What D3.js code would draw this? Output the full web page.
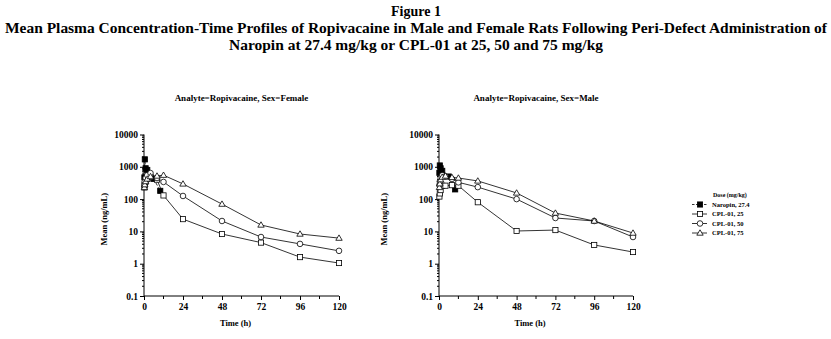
<!DOCTYPE html>
<html>
<head>
<meta charset="utf-8">
<script src="https://cdn.jsdelivr.net/npm/d3@7"></script>
<style>
  body { margin: 0; background: #fff; }
  text { font-family: "Liberation Serif", "Times New Roman", serif; font-weight: bold; fill: #000; }
</style>
</head>
<body>
<div id="chart"></div>
<script>
// ---- data ----
const times = [0.25, 0.5, 1, 2, 4, 8, 12, 24, 48, 72, 96, 120];
const naropinTimes = [0.25, 0.5, 1, 2, 6, 10];

const femaleNaropin = [470, 1700, 900, 800, 420, 180];
const femaleCpl25 = [230, 280, 350, 420, 480, 400, 130, 24, 8.3, 4.5, 1.6, 1.05];
const femaleCpl50 = [300, 350, 450, 550, 640, 450, 340, 125, 21, 6.7, 4.1, 2.5];
const femaleCpl75 = [230, 280, 350, 420, 500, 520, 550, 295, 70, 15.8, 8.3, 6.2];

const maleNaropin = [650, 1100, 900, 750, 500, 200];
const maleCpl25 = [120, 150, 190, 260, 260, 270, 260, 80, 10.3, 11, 3.8, 2.3];
const maleCpl50 = [270, 350, 450, 550, 500, 420, 330, 235, 100, 26, 21, 6.7];
const maleCpl75 = [230, 300, 400, 480, 520, 470, 450, 365, 155, 37, 21, 8.9];

const seriesNames = ['Naropin, 27.4', 'CPL-01, 25', 'CPL-01, 50', 'CPL-01, 75'];
const seriesShapes = ['filledSquare', 'square', 'circle', 'triangle'];
const xTickValues = [0, 24, 48, 72, 96, 120];
const yTickValues = [0.1, 1, 10, 100, 1000, 10000];

const titleLines = ['Figure 1',
  'Mean Plasma Concentration-Time Profiles of Ropivacaine in Male and Female Rats Following Peri-Defect Administration of',
  'Naropin at 27.4 mg/kg or CPL-01 at 25, 50 and 75 mg/kg'];

const panels = [
  { title: 'Analyte=Ropivacaine, Sex=Female', x0: 144, x1: 339, labelOff: 37,
    series: [femaleNaropin, femaleCpl25, femaleCpl50, femaleCpl75] },
  { title: 'Analyte=Ropivacaine, Sex=Male', x0: 439, x1: 633, labelOff: 52,
    series: [maleNaropin, maleCpl25, maleCpl50, maleCpl75] }
];

const width = 831, height = 339;
const yTop = 134.5, yBottom = 296;

const svg = d3.select('#chart').append('svg')
  .attr('width', width)
  .attr('height', height);

// titles
svg.append('text').attr('x', 416).attr('y', 16).attr('text-anchor', 'middle')
  .style('font-size', '14px').text(titleLines[0]);
svg.append('text').attr('x', 416).attr('y', 33).attr('text-anchor', 'middle')
  .style('font-size', '14px')
  .attr('textLength', 822).attr('lengthAdjust', 'spacingAndGlyphs')
  .text(titleLines[1]);
svg.append('text').attr('x', 416).attr('y', 50).attr('text-anchor', 'middle')
  .style('font-size', '14px')
  .attr('textLength', 374).attr('lengthAdjust', 'spacingAndGlyphs')
  .text(titleLines[2]);

const yScale = d3.scaleLog().domain([0.1, 10000]).range([yBottom, yTop]);

function drawMarker(g, shape, cx, cy) {
  if (shape === 'filledSquare' || shape === 'square') {
    g.append('rect').attr('x', cx - 2.6).attr('y', cy - 2.6)
      .attr('width', 5.2).attr('height', 5.2)
      .attr('fill', shape === 'filledSquare' ? '#000' : '#fff')
      .attr('stroke', '#000').attr('stroke-width', 0.8);
  } else if (shape === 'circle') {
    g.append('circle').attr('cx', cx).attr('cy', cy).attr('r', 2.8)
      .attr('fill', '#fff').attr('stroke', '#000').attr('stroke-width', 0.8);
  } else {
    g.append('path')
      .attr('d', `M${cx},${cy - 3.2}L${cx + 3.2},${cy + 2.2}L${cx - 3.2},${cy + 2.2}Z`)
      .attr('fill', '#fff').attr('stroke', '#000').attr('stroke-width', 0.8);
  }
}

panels.forEach(p => {
  const xScale = d3.scaleLinear().domain([0, 120]).range([p.x0, p.x1]);
  const g = svg.append('g');

  g.append('text').attr('x', (p.x0 + p.x1) / 2).attr('y', 101)
    .attr('text-anchor', 'middle').style('font-size', '9px').text(p.title);

  // x axis
  const xAxis = d3.axisBottom(xScale).tickValues(xTickValues)
    .tickSize(4).tickPadding(3).tickFormat(d3.format('d'));
  const xAxisG = g.append('g').attr('transform', `translate(0,${yBottom})`).call(xAxis);
  xAxisG.select('.domain').attr('d', `M${p.x0},0H${p.x1}`);
  xAxisG.selectAll('text').style('font-size', '9.5px');
  xAxisG.selectAll('.minor').data([12, 36, 60, 84, 108]).enter().append('line')
    .attr('class', 'minor').attr('stroke', '#000')
    .attr('x1', d => xScale(d)).attr('x2', d => xScale(d))
    .attr('y1', 0).attr('y2', 3);

  // y axis
  const yAxis = d3.axisLeft(yScale).tickValues(yTickValues)
    .tickSize(4).tickPadding(2)
    .tickFormat(d => d < 1 ? '0.1' : d3.format('d')(d));
  const yAxisG = g.append('g').attr('transform', `translate(${p.x0},0)`).call(yAxis);
  yAxisG.select('.domain').attr('d', `M0,${yTop}V${yBottom}`);
  yAxisG.selectAll('text').style('font-size', '9.5px');
  const minorY = [];
  yTickValues.slice(0, -1).forEach(d => { for (let k = 2; k <= 9; k++) minorY.push(d * k); });
  yAxisG.selectAll('.minor').data(minorY).enter().append('line')
    .attr('class', 'minor').attr('stroke', '#000')
    .attr('x1', -2).attr('x2', 0)
    .attr('y1', d => yScale(d)).attr('y2', d => yScale(d));

  g.append('text').attr('x', (p.x0 + p.x1) / 2 - 6).attr('y', 326)
    .attr('text-anchor', 'middle').style('font-size', '8.5px').text('Time (h)');
  g.append('text')
    .attr('transform', `translate(${p.x0 - p.labelOff},${(yTop + yBottom) / 2 + 4}) rotate(-90)`)
    .attr('text-anchor', 'middle').style('font-size', '8.5px').text('Mean (ng/mL)');

  // series, drawn so that the CPL lines sit over Naropin
  p.series.forEach((vals, i) => {
    const tx = i === 0 ? naropinTimes : times;
    const pts = vals.map((v, j) => [tx[j], v]);
    const line = d3.line().x(d => xScale(d[0])).y(d => yScale(d[1]));
    g.append('path').attr('d', line(pts)).attr('fill', 'none')
      .attr('stroke', '#000').attr('stroke-width', 0.8)
      .attr('stroke-dasharray', i === 0 ? '3,2' : null);
    pts.forEach(d => drawMarker(g, seriesShapes[i], xScale(d[0]), yScale(d[1])));
  });
});

// legend
const lg = svg.append('g');
lg.append('text').attr('x', 713).attr('y', 197).style('font-size', '6px').text('Dose (mg/kg)');
seriesNames.forEach((name, i) => {
  const y = 204.5 + i * 9.5;
  lg.append('line').attr('x1', 692).attr('x2', 707).attr('y1', y).attr('y2', y)
    .attr('stroke', '#000').attr('stroke-width', 0.8)
    .attr('stroke-dasharray', i === 0 ? '2.5,1.5' : null);
  drawMarker(lg, seriesShapes[i], 700, y);
  lg.append('text').attr('x', 712).attr('y', y + 2).style('font-size', '6.5px').text(name);
});
</script>
</body>
</html>
